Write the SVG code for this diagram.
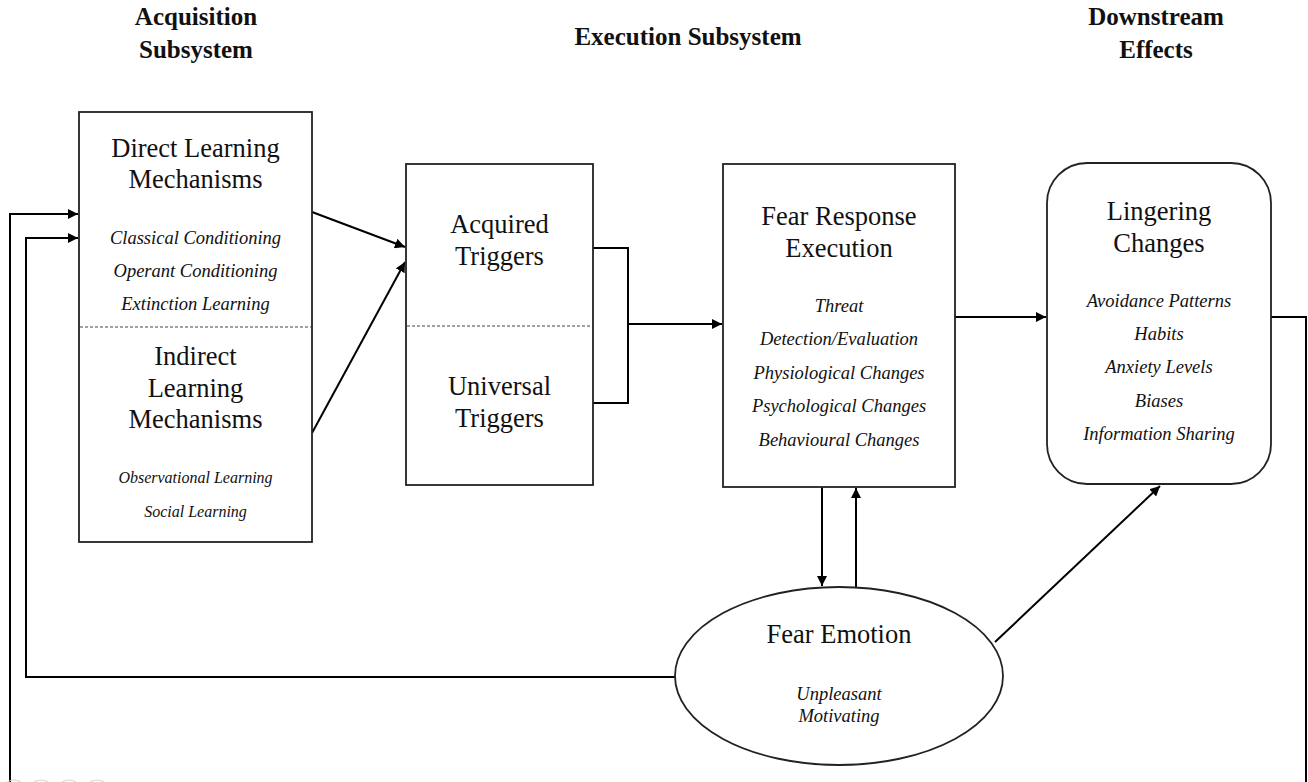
<svg xmlns="http://www.w3.org/2000/svg" width="1308" height="782" viewBox="0 0 1308 782">
<style>
  text { font-family: "Liberation Serif", "Times New Roman", serif; fill: #111; text-anchor: middle; }
  .hdr { font-size: 25px; font-weight: bold; }
  .ttl { font-size: 26.5px; }
  .it { font-size: 18.5px; font-style: italic; }
  .its { font-size: 16px; font-style: italic; }
  .box { fill: #fff; stroke: #222; stroke-width: 1.8; }
  .dash { stroke: #444; stroke-width: 1; stroke-dasharray: 3 2; fill: none; }
  .con { fill: none; stroke: #000; stroke-width: 2; }
  .faint { fill: none; stroke: #d0d0d0; stroke-width: 1.2; }
</style>
<defs>
  <marker id="ah" viewBox="0 0 10 10" refX="10" refY="5" markerWidth="5" markerHeight="5" markerUnits="strokeWidth" orient="auto">
    <path d="M0,0 L10,5 L0,10 z" fill="#000"/>
  </marker>
</defs>
<rect width="1308" height="782" fill="#fff"/>

<g id="headers">
  <text class="hdr" x="196" y="25">Acquisition</text>
  <text class="hdr" x="196" y="58">Subsystem</text>
  <text class="hdr" x="688" y="45">Execution Subsystem</text>
  <text class="hdr" x="1156" y="25">Downstream</text>
  <text class="hdr" x="1156" y="58">Effects</text>
</g>

<g id="connectors">
  <line class="con" x1="312" y1="212" x2="405" y2="247" marker-end="url(#ah)"/>
  <line class="con" x1="312" y1="433" x2="405" y2="262" marker-end="url(#ah)"/>
  <path class="con" d="M593,248 H628 V403 H593"/>
  <line class="con" x1="628" y1="324" x2="722" y2="324" marker-end="url(#ah)"/>
  <line class="con" x1="955" y1="317" x2="1046" y2="317" marker-end="url(#ah)"/>
  <path class="con" d="M1271,317 H1306 V782"/>
  <path class="con" d="M10,782 V214 H78" marker-end="url(#ah)"/>
  <path class="con" d="M675,677 H26 V238 H78" marker-end="url(#ah)"/>
  <line class="con" x1="822" y1="487" x2="822" y2="586" marker-end="url(#ah)"/>
  <line class="con" x1="856" y1="587" x2="856" y2="488" marker-end="url(#ah)"/>
  <line class="con" x1="995" y1="642" x2="1160" y2="486" marker-end="url(#ah)"/>
</g>

<g id="learning">
  <rect class="box" x="79" y="112" width="233" height="430"/>
  <line class="dash" x1="80" y1="327" x2="311" y2="327"/>
  <text class="ttl" x="195.5" y="157">Direct Learning</text>
  <text class="ttl" x="195.5" y="188">Mechanisms</text>
  <text class="it" x="195.5" y="244">Classical Conditioning</text>
  <text class="it" x="195.5" y="277">Operant Conditioning</text>
  <text class="it" x="195.5" y="310">Extinction Learning</text>
  <text class="ttl" x="195.5" y="365">Indirect</text>
  <text class="ttl" x="195.5" y="397">Learning</text>
  <text class="ttl" x="195.5" y="428">Mechanisms</text>
  <text class="its" x="195.5" y="483">Observational Learning</text>
  <text class="its" x="195.5" y="517">Social Learning</text>
</g>

<g id="triggers">
  <rect class="box" x="406" y="164" width="187" height="321"/>
  <line class="dash" x1="407" y1="326" x2="592" y2="326"/>
  <text class="ttl" x="499.5" y="233">Acquired</text>
  <text class="ttl" x="499.5" y="265">Triggers</text>
  <text class="ttl" x="499.5" y="395">Universal</text>
  <text class="ttl" x="499.5" y="427">Triggers</text>
</g>

<g id="fear-response">
  <rect class="box" x="723" y="164" width="232" height="323"/>
  <text class="ttl" x="839" y="225">Fear Response</text>
  <text class="ttl" x="839" y="257">Execution</text>
  <text class="it" x="839" y="312">Threat</text>
  <text class="it" x="839" y="345">Detection/Evaluation</text>
  <text class="it" x="839" y="379">Physiological Changes</text>
  <text class="it" x="839" y="412">Psychological Changes</text>
  <text class="it" x="839" y="446">Behavioural Changes</text>
</g>

<g id="lingering">
  <rect class="box" x="1047" y="163" width="224" height="321" rx="40" ry="40"/>
  <text class="ttl" x="1159" y="220">Lingering</text>
  <text class="ttl" x="1159" y="252">Changes</text>
  <text class="it" x="1159" y="307">Avoidance Patterns</text>
  <text class="it" x="1159" y="340">Habits</text>
  <text class="it" x="1159" y="373">Anxiety Levels</text>
  <text class="it" x="1159" y="407">Biases</text>
  <text class="it" x="1159" y="440">Information Sharing</text>
</g>

<g id="fear-emotion">
  <ellipse class="box" cx="839" cy="676" rx="164" ry="89"/>
  <text class="ttl" x="839" y="643">Fear Emotion</text>
  <text class="it" x="839" y="700">Unpleasant</text>
  <text class="it" x="839" y="722">Motivating</text>
</g>

<g id="faint-marks">
  <circle class="faint" cx="14" cy="792" r="12"/>
  <circle class="faint" cx="41" cy="792" r="12"/>
  <circle class="faint" cx="69" cy="792" r="12"/>
  <circle class="faint" cx="97" cy="792" r="12"/>
</g>
</svg>
